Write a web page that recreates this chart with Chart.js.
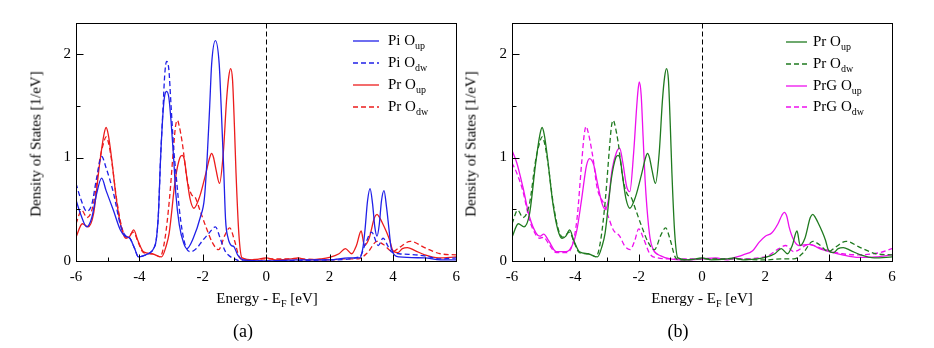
<!DOCTYPE html>
<html lang="en">
<head>
<meta charset="UTF-8">
<title>Density of States</title>
<script src="https://cdn.jsdelivr.net/npm/chart.js"></script>
<style>
    body { margin:0; background:#fff; width:934px; height:348px; position:relative; overflow:hidden;
           font-family:"Liberation Serif","DejaVu Serif",serif; color:#000; }
    canvas { position:absolute; top:0; }
    .txt { position:absolute; white-space:nowrap; transform:translate(-50%,-50%); font-size:15px; }
    .rot { transform:translate(-50%,-50%) rotate(-90deg); }
    .cap { font-size:18px; }
    sub { font-size:10px; vertical-align:-4px; line-height:0; }
    .leg { position:absolute; font-size:15px; white-space:nowrap; }
    .leg svg { position:absolute; top:-2px; }
    .leg span { position:absolute; top:-10px; line-height:18px; }
</style>
</head>
<body>
<canvas id="chartA" width="467" height="348" style="left:0"></canvas>
<canvas id="chartB" width="467" height="348" style="left:467px"></canvas>

<div class="txt rot" style="left:36px; top:144px">Density of States [1/eV]</div>
<div class="txt rot" style="left:471px; top:144px">Density of States [1/eV]</div>
<div class="txt" style="left:267px; top:298px">Energy - E<sub>F</sub> [eV]</div>
<div class="txt" style="left:702px; top:298px">Energy - E<sub>F</sub> [eV]</div>
<div class="txt cap" style="left:243px; top:331px">(a)</div>
<div class="txt cap" style="left:678px; top:331px">(b)</div>
<div id="legA"></div>
<div id="legB"></div>

<script>
    // Pr O (same curves in both panels)
    const prUpE = [-6.0,-5.8,-5.62,-5.45,-5.25,-5.12,-5.05,-4.98,-4.88,-4.71,-4.55,-4.42,-4.3,-4.18,-4.05,-3.87,-3.6,-3.3,-3.15,-3.06,-2.86,-2.72,-2.65,-2.58,-2.5,-2.4,-2.28,-2.1,-1.9,-1.78,-1.72,-1.66,-1.58,-1.47,-1.35,-1.25,-1.18,-1.12,-1.06,-1.0,-0.95,-0.86,-0.76,-0.4,0.0,0.3,0.8,1.0,1.3,1.7,2.0,2.3,2.5,2.7,2.85,3.0,3.1,3.25,3.42,3.5,3.58,3.65,3.8,3.9,4.0,4.15,4.3,4.46,4.7,5.0,5.44,6.0];
    const prUpD = [0.23,0.36,0.33,0.45,0.95,1.22,1.29,1.22,1.0,0.56,0.3,0.22,0.24,0.30,0.2,0.09,0.07,0.04,0.15,0.27,0.8,1.0,1.02,0.98,0.8,0.6,0.51,0.62,0.85,1.0,1.04,1.0,0.88,0.75,1.05,1.55,1.78,1.86,1.75,1.3,0.85,0.26,0.03,0.01,0.03,0.01,0.02,0.03,0.01,0.02,0.035,0.07,0.12,0.07,0.15,0.29,0.15,0.22,0.42,0.45,0.42,0.38,0.28,0.2,0.1,0.08,0.12,0.13,0.1,0.06,0.03,0.04];
    const prDwE = [-6.0,-5.82,-5.65,-5.45,-5.25,-5.12,-5.05,-4.98,-4.88,-4.71,-4.55,-4.4,-4.18,-4.05,-3.87,-3.6,-3.35,-3.2,-3.05,-2.92,-2.86,-2.8,-2.74,-2.65,-2.5,-2.35,-2.25,-2.1,-1.9,-1.7,-1.5,-1.3,-1.15,-1.0,-0.85,-0.7,0.0,1.0,2.0,2.5,2.9,3.2,3.5,3.7,4.0,4.2,4.55,5.0,5.5,6.0];
    const prDwD = [0.36,0.49,0.42,0.55,0.98,1.15,1.2,1.15,0.98,0.58,0.32,0.23,0.28,0.19,0.08,0.07,0.04,0.2,0.6,1.1,1.3,1.36,1.3,1.15,0.8,0.64,0.62,0.5,0.33,0.18,0.11,0.25,0.32,0.2,0.04,0.01,0.02,0.02,0.01,0.02,0.02,0.08,0.19,0.16,0.09,0.13,0.19,0.13,0.07,0.06];

    // Pi O (panel a)
    const piUpE = [-6.0,-5.85,-5.66,-5.5,-5.35,-5.19,-5.05,-4.82,-4.6,-4.45,-4.3,-4.15,-4.03,-3.8,-3.66,-3.55,-3.47,-3.4,-3.33,-3.25,-3.2,-3.14,-3.07,-3.0,-2.92,-2.85,-2.74,-2.6,-2.5,-2.3,-2.07,-1.95,-1.86,-1.78,-1.72,-1.6,-1.48,-1.42,-1.34,-1.28,-1.2,-1.1,-1.02,-0.9,-0.7,0.0,1.0,2.0,2.6,2.95,3.05,3.12,3.2,3.28,3.36,3.43,3.5,3.57,3.64,3.72,3.8,3.88,3.95,4.2,5.0,5.5,6.0];
    const piUpD = [0.59,0.45,0.33,0.42,0.65,0.80,0.68,0.49,0.3,0.24,0.22,0.12,0.04,0.06,0.08,0.12,0.2,0.45,1.0,1.45,1.6,1.64,1.58,1.35,1.0,0.65,0.35,0.17,0.12,0.22,0.43,0.6,1.0,1.5,1.9,2.13,1.9,1.5,0.9,0.4,0.22,0.15,0.14,0.06,0.01,0.0,0.01,0.01,0.03,0.03,0.12,0.3,0.58,0.70,0.55,0.33,0.24,0.35,0.58,0.68,0.52,0.3,0.12,0.04,0.03,0.01,0.01];
    const piDwE = [-6.0,-5.85,-5.66,-5.5,-5.35,-5.19,-5.05,-4.82,-4.6,-4.45,-4.3,-4.15,-4.03,-3.8,-3.66,-3.55,-3.47,-3.4,-3.33,-3.25,-3.2,-3.14,-3.07,-3.0,-2.92,-2.85,-2.7,-2.55,-2.38,-2.2,-2.0,-1.8,-1.6,-1.45,-1.3,-1.2,-1.0,-0.8,0.0,2.0,2.95,3.15,3.33,3.54,3.69,3.85,3.95,4.2,4.5,5.0,5.5,6.0];
    const piDwD = [0.75,0.6,0.48,0.55,0.8,1.01,0.9,0.66,0.35,0.25,0.22,0.12,0.04,0.06,0.08,0.12,0.2,0.45,1.0,1.5,1.8,1.93,1.85,1.5,1.1,0.86,0.4,0.15,0.09,0.12,0.2,0.27,0.33,0.22,0.1,0.06,0.02,0.0,0.0,0.01,0.04,0.18,0.28,0.15,0.22,0.14,0.09,0.07,0.065,0.05,0.02,0.03];

    // PrG O (panel b)
    const pgUpE = [-6.0,-5.85,-5.66,-5.45,-5.24,-5.12,-5.0,-4.85,-4.6,-4.3,-4.1,-3.95,-3.8,-3.65,-3.55,-3.42,-3.3,-3.15,-3.05,-2.95,-2.84,-2.7,-2.6,-2.5,-2.38,-2.28,-2.16,-2.06,-2.02,-1.98,-1.92,-1.86,-1.8,-1.74,-1.64,-1.54,-1.3,-1.0,-0.5,0.0,0.43,0.8,1.0,1.3,1.6,1.8,2.0,2.2,2.4,2.52,2.6,2.68,2.75,2.9,3.06,3.38,3.8,4.43,4.96,5.5,6.0];
    const pgUpD = [1.07,0.95,0.72,0.43,0.27,0.24,0.26,0.2,0.09,0.09,0.15,0.3,0.6,0.92,0.99,0.93,0.75,0.55,0.5,0.6,0.88,1.05,1.09,0.95,0.72,0.67,1.04,1.5,1.65,1.73,1.6,1.2,0.8,0.52,0.22,0.11,0.05,0.02,0.01,0.02,0.03,0.01,0.03,0.06,0.1,0.18,0.24,0.27,0.36,0.44,0.47,0.43,0.33,0.2,0.15,0.16,0.11,0.06,0.035,0.04,0.06];
    const pgDwE = [-6.0,-5.85,-5.66,-5.45,-5.24,-5.12,-5.0,-4.85,-4.6,-4.3,-4.1,-3.95,-3.8,-3.72,-3.66,-3.6,-3.5,-3.42,-3.32,-3.08,-2.95,-2.8,-2.6,-2.45,-2.27,-2.12,-2.0,-1.85,-1.65,-1.4,-1.0,0.0,1.0,2.0,2.43,2.64,2.9,3.38,3.8,4.43,4.96,5.6,6.0];
    const pgDwD = [0.95,0.85,0.68,0.4,0.25,0.22,0.23,0.17,0.08,0.08,0.15,0.4,0.95,1.22,1.30,1.25,1.1,0.95,0.72,0.54,0.42,0.3,0.24,0.15,0.11,0.2,0.31,0.22,0.07,0.03,0.02,0.02,0.02,0.04,0.12,0.15,0.09,0.16,0.12,0.07,0.06,0.08,0.12];

    const xTicks = [-6, 6];      // energy range
    const yTicks = [0, 2.3];     // DOS range

    const panelA = [
        { name: 'Pi O', sub: 'up', e: piUpE, d: piUpD, color: '#2020e8', dash: false },
        { name: 'Pi O', sub: 'dw', e: piDwE, d: piDwD, color: '#2020e8', dash: true },
        { name: 'Pr O', sub: 'up', e: prUpE, d: prUpD, color: '#ec1c1c', dash: false },
        { name: 'Pr O', sub: 'dw', e: prDwE, d: prDwD, color: '#ec1c1c', dash: true }
    ];
    const panelB = [
        { name: 'Pr O', sub: 'up', e: prUpE, d: prUpD, color: '#1f7a1f', dash: false },
        { name: 'Pr O', sub: 'dw', e: prDwE, d: prDwD, color: '#1f7a1f', dash: true },
        { name: 'PrG O', sub: 'up', e: pgUpE, d: pgUpD, color: '#ee10ee', dash: false },
        { name: 'PrG O', sub: 'dw', e: pgDwE, d: pgDwD, color: '#ee10ee', dash: true }
    ];

    // frame, inward ticks and the Fermi level line
    const framePlugin = {
        id: 'frame',
        afterDatasetsDraw(chart) {
            const { ctx, chartArea: a, scales: { x, y } } = chart;
            const L = Math.round(a.left) + 0.5, R = Math.round(a.right) + 0.5;
            const T = Math.round(a.top) + 0.5, B = Math.round(a.bottom) + 0.5;
            ctx.save();
            ctx.strokeStyle = '#000';
            ctx.lineWidth = 1;
            ctx.beginPath();
            x.ticks.forEach(t => {
                const px = Math.round(x.getPixelForValue(t.value)) + 0.5;
                const len = t.value % 2 === 0 ? 7 : 4;
                ctx.moveTo(px, B); ctx.lineTo(px, B - len);
            });
            y.ticks.forEach(t => {
                const py = Math.round(y.getPixelForValue(t.value)) + 0.5;
                const len = Number.isInteger(t.value) ? 7 : 4;
                ctx.moveTo(L, py); ctx.lineTo(L + len, py);
            });
            ctx.stroke();
            ctx.strokeRect(L, T, R - L, B - T);
            const x0 = Math.round(x.getPixelForValue(0)) + 0.5;
            ctx.setLineDash([5, 3]);
            ctx.beginPath();
            ctx.moveTo(x0, T); ctx.lineTo(x0, B);
            ctx.stroke();
            ctx.restore();
        }
    };

    const tickFont = { family: 'Liberation Serif', size: 15 };

    function makePanel(id, sets, yWidth, padRight) {
        return new Chart(document.getElementById(id), {
            type: 'line',
            data: {
                datasets: sets.map(s => ({
                    label: s.name + s.sub,
                    data: s.e.map((v, i) => ({ x: v, y: s.d[i] })),
                    borderColor: s.color,
                    borderDash: s.dash ? [5, 3] : [],
                    borderWidth: 1.3,
                    pointRadius: 0,
                    fill: false,
                    cubicInterpolationMode: 'monotone'
                }))
            },
            options: {
                responsive: false,
                animation: false,
                layout: { padding: { top: 23, right: padRight, bottom: 0, left: 0 } },
                plugins: { legend: { display: false }, tooltip: { enabled: false } },
                scales: {
                    x: {
                        type: 'linear', min: xTicks[0], max: xTicks[1],
                        afterFit: s => { s.height = 87; },
                        grid: { display: false, drawTicks: false },
                        border: { display: false },
                        ticks: { stepSize: 1, autoSkip: false, maxRotation: 0, padding: 7, color: '#000', font: tickFont,
                                 callback: v => (v % 2 === 0 ? v : '') }
                    },
                    y: {
                        min: yTicks[0], max: yTicks[1],
                        afterFit: s => { s.width = yWidth; },
                        grid: { display: false, drawTicks: false },
                        border: { display: false },
                        ticks: { stepSize: 0.5, includeBounds: false, padding: 5, color: '#000', font: tickFont,
                                 callback: v => (Number.isInteger(v) ? v : '') }
                    }
                }
            },
            plugins: [framePlugin]
        });
    }

    function makeLegend(id, sets, lineX, lineW, textX, rows) {
        const box = document.getElementById(id);
        sets.forEach((s, i) => {
            const row = document.createElement('div');
            row.className = 'leg';
            row.style.left = lineX + 'px';
            row.style.top = rows[i] + 'px';
            const dash = s.dash ? 'stroke-dasharray="5 3"' : '';
            row.innerHTML = `<svg width="${lineW}" height="4" style="left:0"><line x1="0" y1="2" x2="${lineW}" y2="2" stroke="${s.color}" stroke-width="1.3" ${dash}/></svg>` +
                            `<span style="left:${textX - lineX}px">${s.name}<sub>${s.sub}</sub></span>`;
            box.appendChild(row);
        });
    }

    makePanel('chartA', panelA, 76, 10);
    makePanel('chartB', panelB, 45, 42);
    makeLegend('legA', panelA, 353, 26, 388, [41, 63, 85, 107]);
    makeLegend('legB', panelB, 786, 21, 813, [42, 64, 86, 107]);
</script>
</body>
</html>
